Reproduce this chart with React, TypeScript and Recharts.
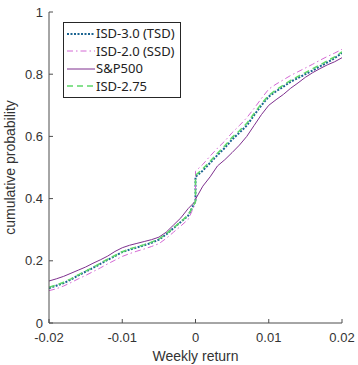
import { Label, Legend, Line, LineChart, XAxis, YAxis } from "recharts"

const returns = [
  -0.02, -0.019, -0.018, -0.017, -0.016, -0.015, -0.014, -0.013, -0.012, -0.011,
  -0.01, -0.009, -0.008, -0.007, -0.006, -0.005, -0.004, -0.003, -0.002, -0.001,
  0, 0,
  0.001, 0.002, 0.003, 0.004, 0.005, 0.006, 0.007, 0.008, 0.009, 0.01,
  0.011, 0.012, 0.013, 0.014, 0.015, 0.016, 0.017, 0.018, 0.019, 0.02,
]

const tsd = [
  0.112, 0.12, 0.128, 0.14, 0.153, 0.165, 0.177, 0.19, 0.203, 0.215,
  0.228, 0.236, 0.243, 0.25, 0.258, 0.268, 0.285, 0.305, 0.325, 0.345,
  0.392, 0.47,
  0.49, 0.515, 0.54, 0.563, 0.59, 0.612, 0.635, 0.668, 0.7, 0.728,
  0.745, 0.76, 0.776, 0.788, 0.8, 0.812, 0.825, 0.838, 0.852, 0.868,
]

const ssd = [
  0.104, 0.11, 0.119, 0.13, 0.142, 0.153, 0.165, 0.177, 0.19, 0.202,
  0.214, 0.223, 0.231, 0.238, 0.246, 0.255, 0.272, 0.292, 0.312, 0.333,
  0.385, 0.488,
  0.51, 0.537, 0.562, 0.585, 0.612, 0.635, 0.66, 0.69, 0.722, 0.752,
  0.768, 0.782, 0.796, 0.808, 0.82, 0.832, 0.845, 0.857, 0.868, 0.88,
]

const sp500 = [
  0.135, 0.142, 0.15, 0.16, 0.17, 0.18, 0.192, 0.203, 0.215, 0.23,
  0.242, 0.25, 0.256, 0.262, 0.268, 0.276, 0.292, 0.315, 0.338, 0.368,
  0.392, 0.398,
  0.44, 0.47, 0.505, 0.525, 0.548, 0.572, 0.6, 0.635, 0.67, 0.7,
  0.718, 0.735, 0.755, 0.772, 0.79, 0.805, 0.818, 0.83, 0.84, 0.853,
]

const isd275 = [
  0.115, 0.122, 0.131, 0.142, 0.155, 0.167, 0.179, 0.192, 0.205, 0.217,
  0.229, 0.238, 0.245, 0.252, 0.26, 0.27, 0.287, 0.306, 0.326, 0.347,
  0.39, 0.475,
  0.496, 0.52, 0.546, 0.57, 0.597, 0.618, 0.642, 0.674, 0.705, 0.732,
  0.75, 0.765, 0.78, 0.793, 0.805, 0.818, 0.83, 0.843, 0.856, 0.872,
]

const xTicks = [-0.02, -0.01, 0, 0.01, 0.02]
const yTicks = [0, 0.2, 0.4, 0.6, 0.8, 1]

const data = returns.map((r, i) => ({
  r,
  tsd: tsd[i],
  ssd: ssd[i],
  sp500: sp500[i],
  isd275: isd275[i],
}))

const series = [
  { key: "tsd", name: "ISD-3.0 (TSD)", color: "#1b6491", width: 2, dash: "2 1.5" },
  { key: "ssd", name: "ISD-2.0 (SSD)", color: "#d468d4", width: 1, dash: "6 3 1.5 3" },
  { key: "sp500", name: "S&P500", color: "#7e2f8e", width: 1, dash: undefined },
  { key: "isd275", name: "ISD-2.75", color: "#5fd86a", width: 1.5, dash: "6 4" },
]

const AXIS = "#4d4d4d"
const TEXT = "#333"
const FONT = "'Liberation Sans', Arial, sans-serif"

const fmt = (v: number) => (v === 0 ? "0" : String(v))

const BottomTick = ({ x, y, payload }: any) => (
  <g>
    <line x1={x} x2={x} y1={y - 10} y2={y - 14} stroke={AXIS} />
    <text x={x} y={y} dy="0.71em" textAnchor="middle" fill={TEXT} fontSize={13} fontFamily={FONT}>
      {fmt(payload.value)}
    </text>
  </g>
)

const LeftTick = ({ x, y, payload }: any) => (
  <g>
    <line x1={x + 6} x2={x + 10} y1={y} y2={y} stroke={AXIS} />
    <text x={x} y={y} dy="0.355em" textAnchor="end" fill={TEXT} fontSize={13} fontFamily={FONT}>
      {fmt(payload.value)}
    </text>
  </g>
)

const TopTick = ({ x, y }: any) => <line x1={x} x2={x} y1={y} y2={y + 4} stroke={AXIS} />

const RightTick = ({ x, y }: any) => <line x1={x} x2={x - 4} y1={y} y2={y} stroke={AXIS} />

const LegendBox = () => (
  <div
    style={{
      border: "1px solid #262626",
      background: "#fff",
      padding: "2px 5px 2px 3px",
      fontFamily: "'Noto Sans', sans-serif",
      fontSize: 13,
      color: "#222",
      lineHeight: "17.5px",
    }}
  >
    {series.map(s => (
      <div key={s.key} style={{ display: "flex", alignItems: "center", whiteSpace: "nowrap" }}>
        <svg width={28} height={10} style={{ marginRight: 1 }}>
          <line x1={0} x2={28} y1={5} y2={5} stroke={s.color} strokeWidth={s.width} strokeDasharray={s.dash} />
        </svg>
        {s.name}
      </div>
    ))}
  </div>
)

export default function App() {
  return (
    <div style={{ position: "absolute", left: 0, top: 0, width: 358, height: 365, background: "#fff" }}>
      <LineChart width={358} height={365} data={data} margin={{ top: 12, right: 16, bottom: 0, left: 0 }}>
        <XAxis
          dataKey="r"
          type="number"
          domain={[-0.02, 0.02]}
          ticks={xTicks}
          allowDataOverflow
          height={42}
          tickSize={0}
          tickMargin={10}
          tickLine={false}
          stroke={AXIS}
          tick={<BottomTick />}
        >
          <Label value="Weekly return" position="insideBottom" offset={4} fill={TEXT} fontSize={14} fontFamily={FONT} />
        </XAxis>
        <XAxis
          xAxisId="top"
          orientation="top"
          dataKey="r"
          type="number"
          domain={[-0.02, 0.02]}
          ticks={xTicks}
          allowDataOverflow
          height={0}
          tickSize={0}
          tickMargin={0}
          tickLine={false}
          stroke={AXIS}
          tick={<TopTick />}
        />
        <YAxis
          type="number"
          domain={[0, 1]}
          ticks={yTicks}
          width={49}
          tickSize={0}
          tickMargin={6}
          tickLine={false}
          stroke={AXIS}
          tick={<LeftTick />}
        >
          <Label
            value="cumulative probability"
            angle={-90}
            position="insideLeft"
            offset={10}
            style={{ textAnchor: "middle" }}
            fill={TEXT}
            fontSize={14}
            fontFamily={FONT}
          />
        </YAxis>
        <YAxis
          yAxisId="right"
          orientation="right"
          type="number"
          domain={[0, 1]}
          ticks={yTicks}
          width={0}
          tickSize={0}
          tickMargin={0}
          tickLine={false}
          stroke={AXIS}
          tick={<RightTick />}
        />
        <Legend
          layout="vertical"
          align="center"
          verticalAlign="middle"
          wrapperStyle={{ top: 22, left: 63, width: "auto", height: "auto" }}
          content={() => <LegendBox />}
        />
        {series.map(s => (
          <Line
            key={s.key}
            dataKey={s.key}
            name={s.name}
            type="linear"
            stroke={s.color}
            strokeWidth={s.width}
            strokeDasharray={s.dash}
            dot={false}
            isAnimationActive={false}
          />
        ))}
      </LineChart>
    </div>
  )
}
